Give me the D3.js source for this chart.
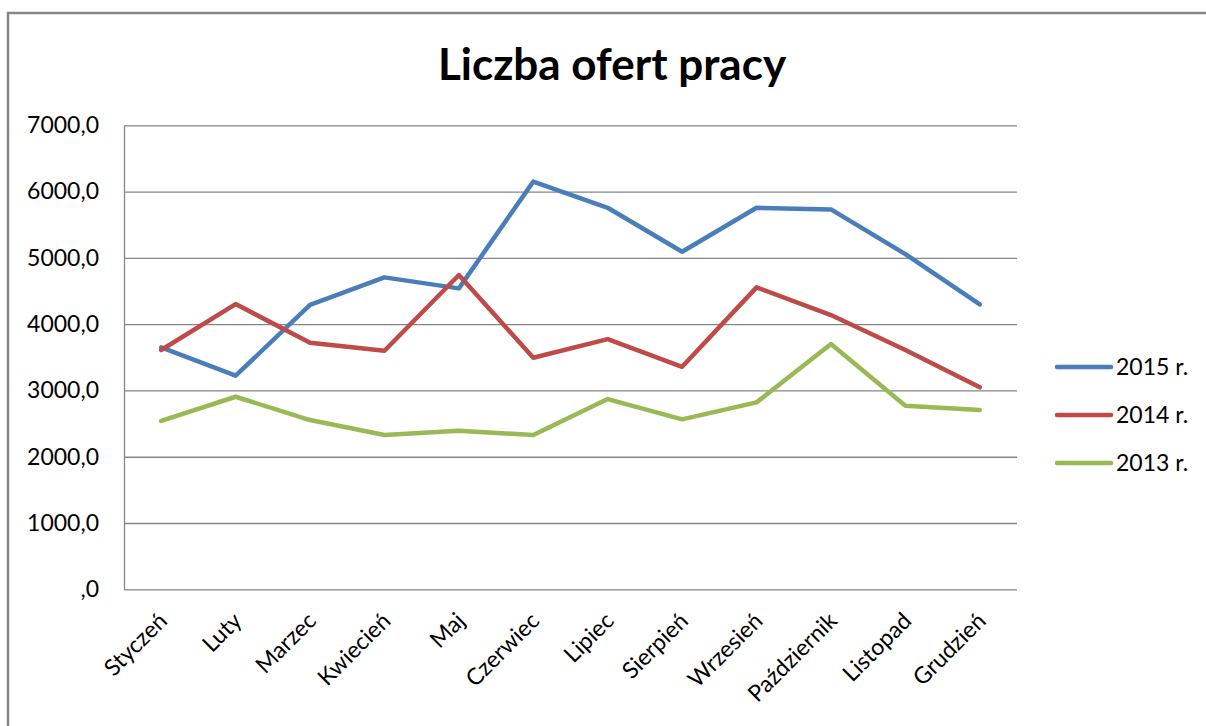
<!DOCTYPE html>
<html>
<head>
<meta charset="utf-8">
<script src="https://cdn.jsdelivr.net/npm/d3@7"></script>
<style>
  html, body { margin: 0; padding: 0; background: #fff; }
  svg { display: block; }
</style>
</head>
<body>
<svg id="chart" width="1206" height="726"></svg>
<script>
const months = ["Styczeń","Luty","Marzec","Kwiecień","Maj","Czerwiec","Lipiec","Sierpień","Wrzesień","Październik","Listopad","Grudzień"];
const values2015 = [3650,3222,4290,4706,4540,6150,5756,5092,5756,5731,5057,4298];
const values2014 = [3610,4303,3720,3599,4741,3493,3775,3357,4555,4137,3609,3047];
const values2013 = [2540,2905,2553,2327,2392,2327,2870,2564,2820,3700,2769,2704];
const seriesNames = ["2015 r.","2014 r.","2013 r."];
const yTicks = [0,1000,2000,3000,4000,5000,6000,7000];
const yTickLabels = [",0","1000,0","2000,0","3000,0","4000,0","5000,0","6000,0","7000,0"];
const chartTitle = "Liczba ofert pracy";

const colors = ["#4a7ebb", "#be4b48", "#98b954"];
const series = [values2015, values2014, values2013];

const svg = d3.select("#chart");
const FONT = "Lato, 'Open Sans', sans-serif";

// outer chart border
svg.append("rect")
  .attr("x", 8).attr("y", 13)
  .attr("width", 1230).attr("height", 760)
  .attr("fill", "#fff")
  .attr("stroke", "#868686")
  .attr("stroke-width", 2.5);

const plotLeft = 124, plotRight = 1017, plotTop = 125.3, plotBottom = 589.3;

const x = d3.scalePoint().domain(months).range([plotLeft, plotRight]).padding(0.5);
const y = d3.scaleLinear().domain([0, 7000]).range([plotBottom, plotTop]);

// title
svg.append("text")
  .attr("x", 612).attr("y", 80)
  .attr("text-anchor", "middle")
  .attr("font-family", FONT)
  .attr("font-weight", "bold")
  .attr("font-size", 44)
  .attr("fill", "#000")
  .text(chartTitle);

// y axis with gridlines
const yAxis = d3.axisLeft(y)
  .tickValues(yTicks)
  .tickSizeInner(-(plotRight - plotLeft))
  .tickSizeOuter(0)
  .tickPadding(25)
  .tickFormat((d, i) => yTickLabels[i]);

const gy = svg.append("g")
  .attr("transform", `translate(${plotLeft},0)`)
  .call(yAxis);
gy.select(".domain").attr("stroke", "#868686").attr("stroke-width", 1.3);
gy.selectAll(".tick line").attr("stroke", "#868686").attr("stroke-width", 1.3);
gy.selectAll(".tick text")
  .attr("font-family", FONT)
  .attr("font-size", 23)
  .attr("fill", "#000");

// x axis labels
const xAxis = d3.axisBottom(x).tickSize(0).tickPadding(0);
const gx = svg.append("g")
  .attr("transform", `translate(0,${plotBottom})`)
  .call(xAxis);
gx.select(".domain").remove();
gx.selectAll(".tick text")
  .attr("font-family", FONT)
  .attr("font-size", 23)
  .attr("fill", "#000")
  .attr("text-anchor", "end")
  .attr("x", 0).attr("y", 0).attr("dy", 0)
  .attr("transform", "translate(7,33) rotate(-45)");

// lines
const line = d3.line()
  .x((d, i) => x(months[i]))
  .y(d => y(d));

series.forEach((vals, k) => {
  svg.append("path")
    .datum(vals)
    .attr("fill", "none")
    .attr("stroke", colors[k])
    .attr("stroke-width", 4.5)
    .attr("stroke-linejoin", "round")
    .attr("stroke-linecap", "round")
    .attr("d", line);
});

// legend
const legendY = d3.scalePoint().domain(seriesNames).range([367, 463]);
const lg = svg.append("g");
seriesNames.forEach((name, k) => {
  const yy = legendY(name);
  lg.append("line")
    .attr("x1", 1057).attr("x2", 1111)
    .attr("y1", yy).attr("y2", yy)
    .attr("stroke", colors[k])
    .attr("stroke-width", 4.5)
    .attr("stroke-linecap", "round");
  lg.append("text")
    .attr("x", 1116).attr("y", yy)
    .attr("dy", "0.35em")
    .attr("font-family", FONT)
    .attr("font-size", 23)
    .attr("fill", "#000")
    .text(name);
});
</script>
</body>
</html>
